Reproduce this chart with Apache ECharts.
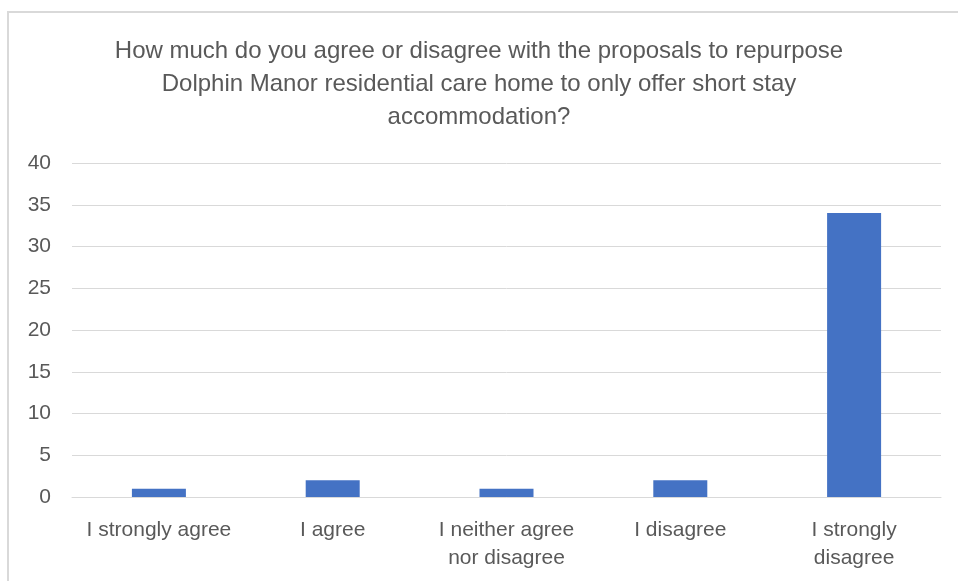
<!DOCTYPE html>
<html>
<head>
<meta charset="utf-8">
<script src="https://cdn.jsdelivr.net/npm/echarts@6/dist/echarts.min.js"></script>
<style>
  html, body { margin: 0; padding: 0; background: #fff; }
  #frame {
    position: absolute; left: 7px; top: 11px; width: 951px; height: 570px;
    border-top: 2px solid #d9d9d9; border-left: 2px solid #d9d9d9;
  }
  #main { position: absolute; left: 0; top: 0; width: 958px; height: 581px; }
</style>
</head>
<body>
<div id="frame"></div>
<div id="main"></div>
<script>
// chart data
var titleText = "How much do you agree or disagree with the proposals to repurpose\nDolphin Manor residential care home to only offer short stay\naccommodation?";
var categories = ["I strongly agree", "I agree", "I neither agree\nnor disagree", "I disagree", "I strongly\ndisagree"];
var responses = [1, 2, 1, 2, 34];
var yTicks = { min: 0, max: 40, interval: 5 };

var font = "Liberation Sans, Arial, sans-serif";
var myChart = echarts.init(document.getElementById("main"));

myChart.setOption({
  animation: false,
  title: {
    text: titleText,
    left: "center",
    top: 30,
    textStyle: {
      fontFamily: font,
      fontSize: 24,
      fontWeight: "normal",
      color: "#595959",
      lineHeight: 33
    }
  },
  grid: {
    left: 72,
    right: 17,
    top: 163,
    bottom: 84
  },
  xAxis: {
    type: "category",
    data: categories,
    axisTick: { show: false },
    axisLine: { lineStyle: { color: "#d9d9d9", width: 1 } },
    axisLabel: {
      interval: 0,
      margin: 19,
      fontFamily: font,
      fontSize: 21,
      lineHeight: 28,
      color: "#595959"
    }
  },
  yAxis: {
    type: "value",
    min: yTicks.min,
    max: yTicks.max,
    interval: yTicks.interval,
    axisLine: { show: false },
    axisTick: { show: false },
    splitLine: { lineStyle: { color: "#d9d9d9", width: 1 } },
    axisLabel: {
      margin: 21,
      fontFamily: font,
      fontSize: 21,
      color: "#595959"
    }
  },
  series: [
    {
      type: "bar",
      data: responses,
      barWidth: 54,
      itemStyle: { color: "#4472C4" }
    }
  ]
});
</script>
</body>
</html>
